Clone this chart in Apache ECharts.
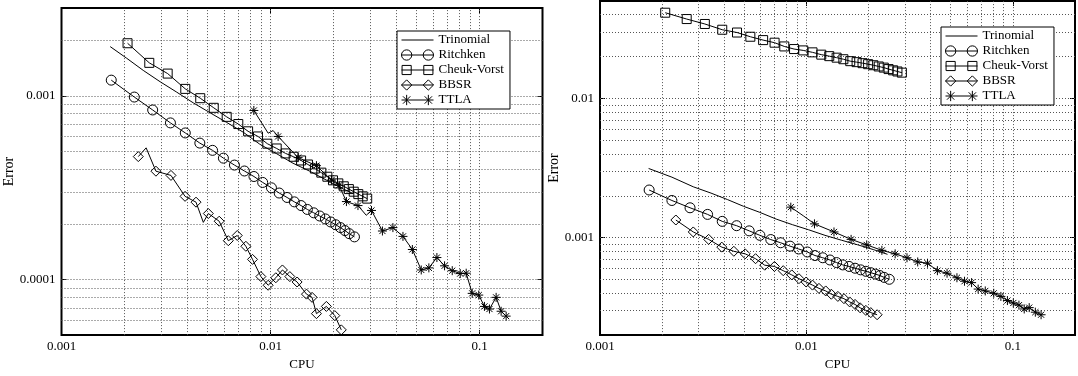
<!DOCTYPE html>
<html>
<head>
<meta charset="utf-8">
<script src="https://cdn.jsdelivr.net/npm/echarts/dist/echarts.min.js"></script>
<style>
html,body{margin:0;padding:0;background:#fff;}
#chart{width:1078px;height:376px;}
</style>
</head>
<body>
<div id="chart"></div>
<script>
// ---------------- DATA ----------------
const seriesNames = ['Trinomial', 'Ritchken', 'Cheuk-Vorst', 'BBSR', 'TTLA'];

const xTickLabels = ['0.001', '0.01', '0.1'];
const yTickLabelsLeft = ['0.0001', '0.001'];
const yTickLabelsRight = ['0.001', '0.01'];

const xGridValues = [0.002, 0.003, 0.004, 0.005, 0.006, 0.007, 0.008, 0.009, 0.01,
  0.02, 0.03, 0.04, 0.05, 0.06, 0.07, 0.08, 0.09, 0.1];
const yGridLeft = [0.00006, 0.00007, 0.00008, 0.00009, 0.0001, 0.0002, 0.0003, 0.0004,
  0.0005, 0.0006, 0.0007, 0.0008, 0.0009, 0.001, 0.002];
const yGridRight = [0.0003, 0.0004, 0.0005, 0.0006, 0.0007, 0.0008, 0.0009, 0.001,
  0.002, 0.003, 0.004, 0.005, 0.006, 0.007, 0.008, 0.009, 0.01, 0.02, 0.03, 0.04];

// Trinomial (line only)
const trinomialLeftCPU = [0.00171, 0.00205, 0.00246, 0.00296, 0.00356, 0.00427, 0.00513, 0.00617,
  0.0074, 0.00889, 0.0107, 0.0128, 0.0154, 0.0185, 0.0222, 0.0247];
const trinomialLeftErr = [0.00185, 0.0016, 0.001374, 0.001193, 0.001046, 0.000915, 0.000809, 0.000716,
  0.000634, 0.000545, 0.000484, 0.00043, 0.000389, 0.000348, 0.000312, 0.000295];
const trinomialRightCPU = [0.00172, 0.00223, 0.00283, 0.00345, 0.00414, 0.00496, 0.00595, 0.00714,
  0.00856, 0.01025, 0.0123, 0.01476, 0.01768, 0.0212, 0.0247];
const trinomialRightErr = [0.00314, 0.00272, 0.00232, 0.00209, 0.00188, 0.00168, 0.00152, 0.00136,
  0.00124, 0.00114, 0.00104, 0.00096, 0.00089, 0.00082, 0.00076];

// Ritchken (circles)
const ritchkenCPU = [0.00173, 0.00223, 0.00273, 0.00332, 0.00391, 0.00459, 0.00528, 0.00595, 0.00672,
  0.0075, 0.00833, 0.00917, 0.0101, 0.011, 0.012, 0.013, 0.014, 0.015, 0.0161, 0.0172, 0.0183,
  0.0194, 0.0205, 0.0216, 0.0227, 0.0238, 0.0252];
const ritchkenLeftErr = [0.001216, 0.000984, 0.000837, 0.000712, 0.000628, 0.000553, 0.000505, 0.000458,
  0.00042, 0.00039, 0.000364, 0.000338, 0.000316, 0.000296, 0.00028, 0.000265, 0.000253, 0.000241,
  0.000231, 0.000222, 0.000214, 0.000206, 0.000199, 0.000192, 0.000185, 0.000178, 0.000171];
const ritchkenRightErr = [0.0022, 0.00185, 0.00164, 0.00147, 0.00131, 0.00122, 0.00112, 0.00104,
  0.00097, 0.00092, 0.00087, 0.00083, 0.00079, 0.000745, 0.000718, 0.000692, 0.000663, 0.000638,
  0.000622, 0.000604, 0.000588, 0.000574, 0.000561, 0.000548, 0.000535, 0.000519, 0.000503];

// Cheuk-Vorst (squares)
const cheukCPU = [0.00207, 0.00263, 0.00322, 0.00391, 0.00461, 0.00535, 0.00617, 0.00701, 0.00781,
  0.00871, 0.00965, 0.0107, 0.0118, 0.0129, 0.014, 0.0151, 0.0163, 0.0175, 0.0187, 0.0199, 0.0211,
  0.0224, 0.0237, 0.025, 0.0263, 0.0276, 0.029];
const cheukLeftErr = [0.00193, 0.00151, 0.00132, 0.00109, 0.00097, 0.00086, 0.000768, 0.000702,
  0.000641, 0.000601, 0.000549, 0.000517, 0.000486, 0.000466, 0.000445, 0.000423, 0.000402, 0.000382,
  0.000363, 0.000347, 0.000334, 0.000322, 0.000311, 0.000301, 0.000292, 0.000284, 0.000276];
const cheukRightErr = [0.0412, 0.0371, 0.0342, 0.0311, 0.0297, 0.0277, 0.0262, 0.0251, 0.0236, 0.0226,
  0.0221, 0.0214, 0.0206, 0.0201, 0.0196, 0.0191, 0.0185, 0.0182, 0.0179, 0.0176, 0.0173, 0.01695,
  0.01663, 0.01623, 0.0159, 0.0156, 0.0153];

// BBSR (diamonds) + unmarked line vertices
const bbsrLeftCPU = [0.00233, 0.00283, 0.00334, 0.0039, 0.0044, 0.00504, 0.00568, 0.00628, 0.00693,
  0.00762, 0.0082, 0.00899, 0.00974, 0.0106, 0.0114, 0.01237, 0.0134, 0.01486, 0.0158, 0.01658,
  0.0185, 0.0203, 0.0218];
const bbsrLeftErr = [0.000467, 0.000389, 0.000369, 0.000284, 0.000264, 0.000229, 0.000208, 0.000163,
  0.000174, 0.000152, 0.000129, 0.000104, 0.0000933, 0.0001025, 0.000113, 0.000104, 0.0000972,
  0.0000835, 0.0000802, 0.0000654, 0.0000716, 0.0000638, 0.0000534];
const bbsrLeftLineCPU = [0.00254, 0.00477];
const bbsrLeftLineErr = [0.000521, 0.000205];
const bbsrRightCPU = [0.00233, 0.00283, 0.00336, 0.00389, 0.00445, 0.00505, 0.00567, 0.00628, 0.007,
  0.00772, 0.00849, 0.0092, 0.00997, 0.0107, 0.0115, 0.0124, 0.0132, 0.0142, 0.0152, 0.0162, 0.0172,
  0.0182, 0.0194, 0.0205, 0.022];
const bbsrRightErr = [0.00134, 0.0011, 0.000973, 0.000856, 0.000799, 0.000766, 0.000707, 0.000635,
  0.000622, 0.00058, 0.000541, 0.000508, 0.000481, 0.000457, 0.000433, 0.000415, 0.000393, 0.000379,
  0.000365, 0.000346, 0.000332, 0.000314, 0.000301, 0.00029, 0.00028];

// TTLA (stars) + unmarked line vertices
const ttlaLeftCPU = [0.00832, 0.01087, 0.01355, 0.01658, 0.01956, 0.02127, 0.02307, 0.0262, 0.0304,
  0.0343, 0.0385, 0.043, 0.0477, 0.0526, 0.0572, 0.0625, 0.068, 0.074, 0.0808, 0.0863, 0.0922,
  0.0991, 0.1055, 0.1115, 0.12, 0.1268, 0.134];
const ttlaLeftErr = [0.000832, 0.000601, 0.000461, 0.000417, 0.000348, 0.000326, 0.000266, 0.000253,
  0.000238, 0.000184, 0.000192, 0.000172, 0.000146, 0.000113, 0.000116, 0.000132, 0.000119, 0.000112,
  0.000108, 0.0001085, 0.0000843, 0.0000825, 0.0000716, 0.0000693, 0.0000802, 0.0000674, 0.0000634];
const ttlaLeftLineCPU = [0.00974, 0.01029, 0.0287];
const ttlaLeftLineErr = [0.000626, 0.000647, 0.000224];
const ttlaRightCPU = [0.0084, 0.01094, 0.0136, 0.01646, 0.01959, 0.0232, 0.0269, 0.0307, 0.0346, 0.0386,
  0.0431, 0.048, 0.0536, 0.0583, 0.0631, 0.0679, 0.0735, 0.0808, 0.0875, 0.0941, 0.1005, 0.107,
  0.1135, 0.12, 0.1285, 0.137];
const ttlaRightErr = [0.001657, 0.001257, 0.0011, 0.000973, 0.000888, 0.000812, 0.000766, 0.000718,
  0.00067, 0.000656, 0.00058, 0.000556, 0.000516, 0.000487, 0.000476, 0.000428, 0.000415, 0.000399,
  0.000379, 0.000354, 0.00034, 0.000328, 0.000308, 0.000315, 0.000292, 0.00028];
const ttlaRightLineCPU = [0.0097];
const ttlaRightLineErr = [0.00143];

// ---------------- CHART ----------------
const FONT = 'Liberation Serif';
const starPath = 'path://M5,0L5,10M0,5L10,5M1.6,1.6L8.4,8.4M1.6,8.4L8.4,1.6';
const symbolOf = { 'Trinomial': 'none', 'Ritchken': 'circle', 'Cheuk-Vorst': 'rect', 'BBSR': 'diamond', 'TTLA': starPath };
const sizeOf = { 'Trinomial': 0, 'Ritchken': 10, 'Cheuk-Vorst': 9, 'BBSR': 10, 'TTLA': 9 };

// gnuplot-like legend samples: symbol - line - symbol (box 28 x 9)
const legendIconOf = {
  'Trinomial': 'path://M0,4L28,4L28,5L0,5Z',
  'Ritchken': 'path://M0,4.5L28,4.5M9,4.5A4.5,4.5,0,1,1,0,4.5A4.5,4.5,0,1,1,9,4.5ZM28,4.5A4.5,4.5,0,1,1,19,4.5A4.5,4.5,0,1,1,28,4.5Z',
  'Cheuk-Vorst': 'path://M0,4.5L28,4.5M0.5,0.5L8.5,0.5L8.5,8.5L0.5,8.5ZM19.5,0.5L27.5,0.5L27.5,8.5L19.5,8.5Z',
  'BBSR': 'path://M0,4.5L28,4.5M4.5,0L9,4.5L4.5,9L0,4.5ZM23.5,0L28,4.5L23.5,9L19,4.5Z',
  'TTLA': 'path://M0,4.5L28,4.5M4.5,0L4.5,9M1.3,1.3L7.7,7.7M1.3,7.7L7.7,1.3M23.5,0L23.5,9M20.3,1.3L26.7,7.7M20.3,7.7L26.7,1.3'
};

function pts(xs, ys, lx, ly) {
  const out = xs.map((x, i) => ({ value: [x, ys[i]] }));
  if (lx) lx.forEach((x, i) => out.push({ value: [x, ly[i]], symbol: 'none' }));
  out.sort((a, b) => a.value[0] - b.value[0]);
  return out;
}

function labelFmt(list) {
  return function (v) {
    for (const s of list) { if (Math.abs(v / Number(s) - 1) < 1e-6) return s; }
    return '';
  };
}

function mkSeries(name, panel, data) {
  const noMark = name === 'Trinomial';
  return {
    type: 'line', name: name,
    xAxisIndex: panel * 2, yAxisIndex: panel * 2,
    data: data,
    symbol: symbolOf[name], symbolSize: sizeOf[name],
    showSymbol: !noMark,
    lineStyle: { color: '#000', width: 1 },
    itemStyle: noMark
      ? { color: 'rgba(0,0,0,0)', borderColor: 'rgba(0,0,0,0)', borderWidth: 0 }
      : { color: 'rgba(0,0,0,0)', borderColor: '#000', borderWidth: 1 },
    silent: true, animation: false, z: 3,
    emphasis: { disabled: true }
  };
}

const gridLineStyle = { color: '#555', width: 1, type: [1, 2] };
function gridHelper(panel, yVals) {
  const lines = xGridValues.map(v => ({ xAxis: v })).concat(yVals.map(v => ({ yAxis: v })));
  return {
    type: 'line', name: 'grid' + panel, data: [],
    xAxisIndex: panel * 2, yAxisIndex: panel * 2,
    silent: true, animation: false,
    markLine: {
      z: 1, silent: true, symbol: ['none', 'none'], animation: false, precision: 12,
      label: { show: false }, lineStyle: gridLineStyle,
      emphasis: { disabled: true },
      data: lines
    }
  };
}

const tickStyle = { inside: true, length: 5, lineStyle: { color: '#000', width: 1 } };
function xAxes(grid, min, max) {
  return [
    {
      gridIndex: grid, type: 'log', logBase: 10, min: min, max: max, position: 'bottom',
      axisLine: { show: false }, axisTick: tickStyle, splitLine: { show: false },
      axisLabel: { formatter: labelFmt(xTickLabels), color: '#000', fontFamily: FONT, fontSize: 13, margin: 5 },
      name: 'CPU', nameLocation: 'middle', nameGap: 21,
      nameTextStyle: { color: '#000', fontFamily: FONT, fontSize: 13 }
    },
    {
      gridIndex: grid, type: 'log', logBase: 10, min: min, max: max, position: 'top',
      axisLine: { show: false }, axisTick: tickStyle, splitLine: { show: false },
      axisLabel: { show: false }
    }
  ];
}
function yAxes(grid, min, max, labels, gap) {
  return [
    {
      gridIndex: grid, type: 'log', logBase: 10, min: min, max: max, position: 'left',
      axisLine: { show: false }, axisTick: tickStyle, splitLine: { show: false },
      axisLabel: { formatter: labelFmt(labels), color: '#000', fontFamily: FONT, fontSize: 13, margin: 6 },
      name: 'Error', nameLocation: 'middle', nameGap: gap, nameRotate: 90,
      nameTextStyle: { color: '#000', fontFamily: FONT, fontSize: 14 }
    },
    {
      gridIndex: grid, type: 'log', logBase: 10, min: min, max: max, position: 'right',
      axisLine: { show: false }, axisTick: tickStyle, splitLine: { show: false },
      axisLabel: { show: false }
    }
  ];
}

function legendAt(left, top) {
  return {
    left: left, top: top, orient: 'vertical',
    data: seriesNames.map(n => ({
      name: n, icon: legendIconOf[n],
      itemStyle: n === 'Trinomial'
        ? { color: '#000', borderWidth: 0, borderColor: 'rgba(0,0,0,0)' }
        : { color: 'rgba(0,0,0,0)', borderColor: '#000', borderWidth: 1 }
    })),
    itemWidth: 32, itemHeight: 12, itemGap: 1, padding: [2, 6, 2, 4],
    symbolKeepAspect: true,
    borderColor: '#000', borderWidth: 1, backgroundColor: '#fff',
    selectedMode: false,
    textStyle: { color: '#000', fontFamily: FONT, fontSize: 13, lineHeight: 14 }
  };
}

const series = [
  gridHelper(0, yGridLeft),
  gridHelper(1, yGridRight),
  mkSeries('Trinomial', 0, pts(trinomialLeftCPU, trinomialLeftErr)),
  mkSeries('Ritchken', 0, pts(ritchkenCPU, ritchkenLeftErr)),
  mkSeries('Cheuk-Vorst', 0, pts(cheukCPU, cheukLeftErr)),
  mkSeries('BBSR', 0, pts(bbsrLeftCPU, bbsrLeftErr, bbsrLeftLineCPU, bbsrLeftLineErr)),
  mkSeries('TTLA', 0, pts(ttlaLeftCPU, ttlaLeftErr, ttlaLeftLineCPU, ttlaLeftLineErr)),
  mkSeries('Trinomial', 1, pts(trinomialRightCPU, trinomialRightErr)),
  mkSeries('Ritchken', 1, pts(ritchkenCPU, ritchkenRightErr)),
  mkSeries('Cheuk-Vorst', 1, pts(cheukCPU, cheukRightErr)),
  mkSeries('BBSR', 1, pts(bbsrRightCPU, bbsrRightErr)),
  mkSeries('TTLA', 1, pts(ttlaRightCPU, ttlaRightErr, ttlaRightLineCPU, ttlaRightLineErr))
];

const chart = echarts.init(document.getElementById('chart'), null, { renderer: 'canvas' });
chart.setOption({
  backgroundColor: '#fff',
  animation: false,
  grid: [
    { left: 61.5, right: 535.5, top: 8, bottom: 33.3, show: true, borderColor: '#000', borderWidth: 2, backgroundColor: '#fff' },
    { left: 600, right: -8, top: 1, bottom: 31, show: true, borderColor: '#000', borderWidth: 2, backgroundColor: '#fff' }
  ],
  xAxis: xAxes(0, 0.001, 0.2).concat(xAxes(1, 0.001, 0.2)),
  yAxis: yAxes(0, 0.00005, 0.003, yTickLabelsLeft, 41).concat(yAxes(1, 0.0002, 0.05, yTickLabelsRight, 35)),
  legend: [legendAt(397, 31), legendAt(941, 27)],
  series: series
});
</script>
</body>
</html>
